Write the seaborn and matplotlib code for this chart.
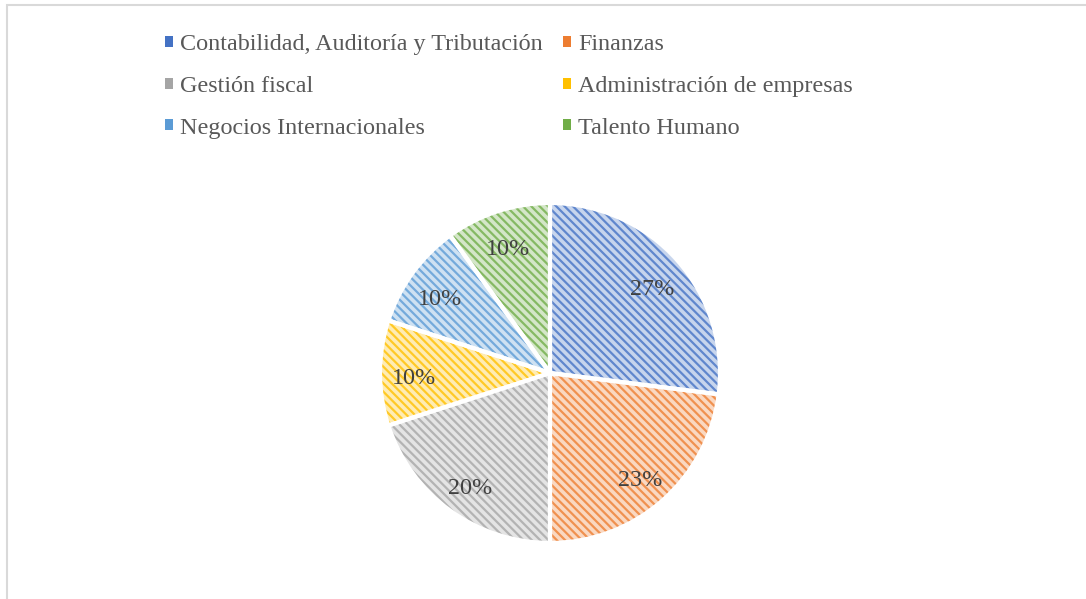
import matplotlib
matplotlib.use("Agg")
import matplotlib.pyplot as plt
from matplotlib.patches import Patch, Rectangle
import seaborn as sns

categories = ["Contabilidad, Auditoría y Tributación", "Finanzas", "Gestión fiscal",
              "Administración de empresas", "Negocios Internacionales", "Talento Humano"]
shares = [27, 23, 20, 10, 10, 10]
colors = ["#4472C4", "#ED7D31", "#A5A5A5", "#FFC000", "#5B9BD5", "#70AD47"]

sns.set_theme(style="white")
plt.rcParams["font.family"] = ["Liberation Serif", "DejaVu Serif"]
plt.rcParams["hatch.linewidth"] = 1.6

def tint(hex_color, amount=0.7):
    r, g, b = matplotlib.colors.to_rgb(hex_color)
    return (r + (1 - r) * amount, g + (1 - g) * amount, b + (1 - b) * amount)

fig = plt.figure(figsize=(10.86, 5.99), dpi=100)
W, H = 1086, 599

# outer chart border (clipped at right/bottom like the source)
fig.patches.append(Rectangle((7 / W, -0.1), 1.2, 1 - 5 / H + 0.1, transform=fig.transFigure,
                             fill=False, edgecolor="#D9D9D9", linewidth=1.5))

ax = fig.add_axes([(550 - 170) / W, (599 - 543) / H, 340 / W, 340 / H])

# hatched fill
wedges, _ = ax.pie(shares, startangle=90, counterclock=False,
                   colors=[tint(c) for c in colors],
                   wedgeprops=dict(linewidth=0))
for w, c in zip(wedges, colors):
    w.set_hatch("\\\\\\\\")
    w.set_edgecolor(tint(c, 0.15))
    w.set_linewidth(0)

# white separators and percent labels
_, _, autotexts = ax.pie(shares, startangle=90, counterclock=False, colors=["none"] * len(shares),
                         autopct="%1.0f%%", pctdistance=0.8,
                         wedgeprops=dict(linewidth=3, edgecolor="white", facecolor="none"),
                         textprops=dict(fontsize=17.4, color="#404040"))
for t in autotexts:
    x, y = t.get_position()
    t.set_position((x, y - 0.035))
ax.set_xlim(-1, 1)
ax.set_ylim(-1, 1)
ax.set_aspect("equal")

# legend filled row by row, as in the source
order = [0, 2, 4, 1, 3, 5]
handles = [Patch(facecolor=colors[i], edgecolor="none") for i in order]
labels = [categories[i] for i in order]
fig.legend(handles, labels, ncol=2, loc="upper left",
           bbox_to_anchor=(165 / W, 1 - 34 / H), frameon=False,
           fontsize=17.4, labelcolor="#595959", borderpad=0, borderaxespad=0,
           handlelength=0.32, handleheight=0.32, handletextpad=0.3,
           labelspacing=0.86, columnspacing=0.85)

fig.savefig("out.png", dpi=100, facecolor="white")
